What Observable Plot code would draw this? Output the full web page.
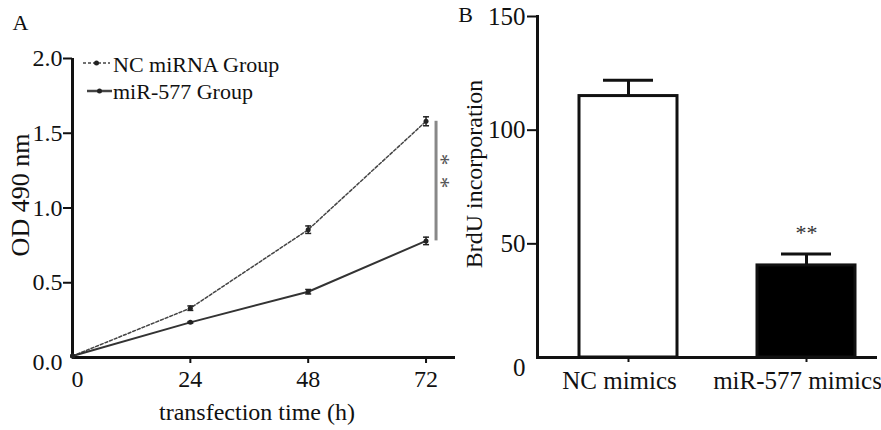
<!DOCTYPE html>
<html><head><meta charset="utf-8">
<script src="https://cdn.jsdelivr.net/npm/d3@7"></script>
<script src="https://cdn.jsdelivr.net/npm/@observablehq/plot@0.6"></script>
<style>
body{margin:0;background:#fff;}
#wrap{position:relative;width:881px;height:430px;display:flex;font-family:"Liberation Serif","Times New Roman",serif;color:#111;}
.panel{position:relative;}
#legend{position:absolute;left:0;top:0;width:455px;height:120px;pointer-events:none;}
</style></head><body>
<div id="wrap"><div id="a" class="panel"></div><div id="b" class="panel"></div>
<svg id="legend" width="455" height="120"></svg></div>
<script>
// ---- Panel A data ----
const hours = [0, 24, 48, 72];
const ncOD = [0.01, 0.33, 0.855, 1.58];
const ncErr = [0, 0.015, 0.025, 0.03];
const mirOD = [0.01, 0.235, 0.44, 0.78];
const mirErr = [0, 0.005, 0.015, 0.025];
const seriesNames = ["NC miRNA Group", "miR-577 Group"];
const yTicksA = [0.5, 1, 1.5, 2];
const xTicksA = [24, 48, 72];
// ---- Panel B data ----
const groups = ["NC mimics", "miR-577 mimics"];
const brdu = [115, 40.5];
const brduErr = [7, 5];
const yTicksB = [50, 100, 150];

const FONT = "Liberation Serif";
const capSym = {draw(ctx, size) { const w = Math.sqrt(size / Math.PI); ctx.moveTo(-w, 0); ctx.lineTo(w, 0); }};

const nc = hours.map((h, i) => ({series: seriesNames[0], h, v: ncOD[i], e: ncErr[i]}));
const mir = hours.map((h, i) => ({series: seriesNames[1], h, v: mirOD[i], e: mirErr[i]}));
const ptsA = nc.concat(mir);
const errA = ptsA.filter(d => d.e > 0);
const sig = [{h: hours[3], lo: mirOD[3], hi: ncOD[3], m: (ncOD[3] + mirOD[3]) / 2}];

const chartA = Plot.plot({
  width: 455, height: 430,
  marginLeft: 72, marginRight: 0, marginTop: 58, marginBottom: 73,
  style: {fontFamily: FONT, fontSize: "24px", background: "transparent", color: "#111"},
  x: {domain: [0, 78]},
  y: {domain: [0, 2]},
  marks: [
    Plot.axisY({ticks: yTicksA, tickFormat: d3.format(".1f"), tickSize: 9, tickPadding: 1, label: null, stroke: "#111", strokeWidth: 2, fontSize: 24}),
    Plot.axisY({ticks: [0], tickFormat: d3.format(".1f"), tickSize: 0, tickPadding: 10, dy: 5, label: null, fontSize: 24}),
    Plot.axisX({ticks: xTicksA, tickSize: 6, tickPadding: 6, label: null, stroke: "#111", strokeWidth: 2, fontSize: 24}),
    Plot.axisX({ticks: [0], tickSize: 0, tickPadding: 12, dx: 5, label: null, fontSize: 24}),
    Plot.ruleY([0], {stroke: "#111", strokeWidth: 3}),
    Plot.ruleX([0], {stroke: "#111", strokeWidth: 3}),
    Plot.line(nc, {x: "h", y: "v", stroke: "#444", strokeWidth: 1.5, strokeDasharray: "3,2"}),
    Plot.line(mir, {x: "h", y: "v", stroke: "#333", strokeWidth: 2}),
    Plot.ruleX(errA, {x: "h", y1: d => d.v - d.e, y2: d => d.v + d.e, stroke: "#222", strokeWidth: 1.5}),
    Plot.dot(errA, {x: "h", y: d => d.v + d.e, symbol: capSym, r: 3, stroke: "#222", strokeWidth: 1.5, fill: "none"}),
    Plot.dot(errA, {x: "h", y: d => d.v - d.e, symbol: capSym, r: 3, stroke: "#222", strokeWidth: 1.5, fill: "none"}),
    Plot.dot(ptsA, {x: "h", y: "v", r: 2.5, fill: "#222"}),
    Plot.ruleX(sig, {x: "h", y1: "lo", y2: "hi", dx: 10, stroke: "#888", strokeWidth: 3}),
    Plot.text(sig, {x: "h", y: "m", text: () => "*  *", rotate: 90, textAnchor: "middle", lineAnchor: "middle", dx: 15, dy: -10, fontSize: 23, fill: "#555"}),
    Plot.text(["OD 490 nm"], {frameAnchor: "left", rotate: -90, textAnchor: "middle", lineAnchor: "middle", dx: -52, dy: -13, fontSize: 26, fill: "#111"}),
    Plot.text(["transfection time (h)"], {frameAnchor: "bottom", textAnchor: "middle", lineAnchor: "middle", dx: -7, dy: 55, fontSize: 24, fill: "#111"}),
    Plot.text(["A"], {frameAnchor: "top-left", lineAnchor: "middle", textAnchor: "middle", dx: -52, dy: -36, fontSize: 22, fill: "#111"})
  ]
});
document.getElementById("a").appendChild(chartA);

const barsB = groups.map((g, i) => ({g, v: brdu[i], e: brduErr[i]}));
const chartB = Plot.plot({
  width: 426, height: 430,
  marginLeft: 82, marginRight: 4, marginTop: 16, marginBottom: 73,
  style: {fontFamily: FONT, fontSize: "24px", background: "transparent", color: "#111"},
  x: {domain: groups, paddingInner: 0.45, paddingOuter: 0.175, align: 0.66},
  y: {domain: [0, 150]},
  color: {domain: groups, range: ["white", "black"]},
  marks: [
    Plot.axisY({ticks: yTicksB, tickSize: 10, tickPadding: 2, label: null, stroke: "#111", strokeWidth: 2, fontSize: 25}),
    Plot.axisY({ticks: [0], tickSize: 0, tickPadding: 12, dy: 10, label: null, fontSize: 25}),
    Plot.axisX({tickSize: 5, tickFormat: null, label: null, stroke: "#111", strokeWidth: 2}),
    Plot.text(groups, {x: d => d, frameAnchor: "bottom", textAnchor: "middle", lineAnchor: "middle", dx: -9, dy: 23, fontSize: 25, fill: "#111"}),
    Plot.ruleX(barsB, {x: "g", y1: "v", y2: d => d.v + d.e, stroke: "#111", strokeWidth: 3}),
    Plot.tickY(barsB, {x: "g", y: d => d.v + d.e, inset: 24, stroke: "#111", strokeWidth: 3}),
    Plot.barY(barsB, {x: "g", y: "v", fill: "g", stroke: "#111", strokeWidth: 3}),
    Plot.ruleY([0], {stroke: "#111", strokeWidth: 3}),
    Plot.frame({anchor: "left", stroke: "#111", strokeWidth: 3}),
    Plot.text(barsB.slice(1), {x: "g", y: d => d.v + d.e, text: () => "**", dy: -21, fontSize: 22, fill: "#333"}),
    Plot.text(["BrdU incorporation"], {frameAnchor: "left", rotate: -90, textAnchor: "middle", lineAnchor: "middle", dx: -63, dy: -13, fontSize: 24, fill: "#111"}),
    Plot.text(["B"], {frameAnchor: "top-left", lineAnchor: "middle", textAnchor: "middle", dx: -72, dy: -2, fontSize: 22, fill: "#111"})
  ]
});
document.getElementById("b").appendChild(chartB);

// Legend overlay (panel A)
const lg = d3.select("#legend");
const items = [
  {name: seriesNames[0], dash: "3,2", w: 1.5, x1: 83, x2: 110, y: 63, ty: 72},
  {name: seriesNames[1], dash: null, w: 2.5, x1: 87, x2: 112, y: 91, ty: 99}
];
for (const it of items) {
  lg.append("line").attr("x1", it.x1).attr("x2", it.x2).attr("y1", it.y).attr("y2", it.y)
    .attr("stroke", "#444").attr("stroke-width", it.w).attr("stroke-dasharray", it.dash);
  lg.append("circle").attr("cx", (it.x1 + it.x2) / 2).attr("cy", it.y).attr("r", 2.5).attr("fill", "#222");
  lg.append("text").attr("x", 113).attr("y", it.ty).attr("font-family", FONT).attr("font-size", 22)
    .attr("fill", "#111").text(it.name);
}
</script>
</body></html>
